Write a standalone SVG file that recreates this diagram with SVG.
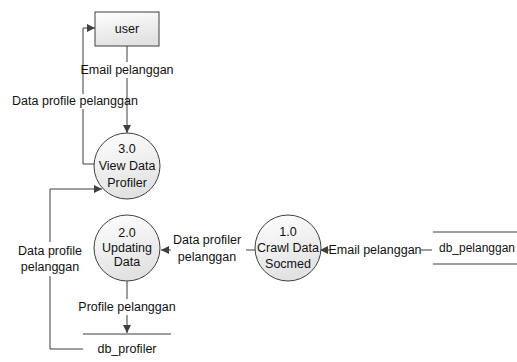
<svg xmlns="http://www.w3.org/2000/svg" width="517" height="362" viewBox="0 0 517 362">
  <defs>
    <linearGradient id="shade" x1="0" y1="0" x2="0.3" y2="1">
      <stop offset="0" stop-color="#ffffff"/>
      <stop offset="1" stop-color="#e2e2e2"/>
    </linearGradient>
    <marker id="arrow" markerWidth="9" markerHeight="8" refX="8" refY="4" orient="auto" markerUnits="userSpaceOnUse">
      <path d="M0,0 L8,4 L0,8 Z" fill="#3f3f3f"/>
    </marker>
    <style>
      .shape { fill: url(#shade); stroke: #3f3f3f; stroke-width: 1; }
      .flow { fill: none; stroke: #3f3f3f; stroke-width: 1; }
      .store { fill: none; stroke: #3f3f3f; stroke-width: 1; }
      text { font-family: "Liberation Sans", Arial, sans-serif; font-size: 12.5px; fill: #111111; text-anchor: middle; }
      .left { text-anchor: start; }
    </style>
  </defs>

  <!-- connectors -->
  <g id="connectors">
    <!-- user -> 3.0 -->
    <path class="flow" d="M127 46 V62 M127 78 V133" marker-end="url(#arrow)"/>
    <!-- 3.0 -> user -->
    <path class="flow" d="M95 164 H83 V109 M83 94 V28 H95" marker-end="url(#arrow)"/>
    <!-- db_profiler -> 3.0 -->
    <path class="flow" d="M83 349 H50 V276 M50 242 V189 H102" marker-end="url(#arrow)"/>
    <!-- 1.0 -> 2.0 -->
    <path class="flow" d="M255 250 H246 M171 250 H161" marker-end="url(#arrow)"/>
    <!-- db_pelanggan -> 1.0 -->
    <path class="flow" d="M432 250 H421 M330 250 H320" marker-end="url(#arrow)"/>
    <!-- 2.0 -> db_profiler -->
    <path class="flow" d="M127 281 V299 M127 315 V333" marker-end="url(#arrow)"/>

    <text x="127" y="74">Email pelanggan</text>
    <text x="75" y="105">Data profile pelanggan</text>
    <text x="50" y="255">Data profile</text>
    <text x="50" y="271">pelanggan</text>
    <text x="207" y="244">Data profiler</text>
    <text x="207" y="261">pelanggan</text>
    <text x="375" y="254">Email pelanggan</text>
    <text x="127" y="311">Profile pelanggan</text>
  </g>

  <g id="user">
    <rect class="shape" x="95" y="12" width="64" height="34"/>
    <text x="127" y="33">user</text>
  </g>

  <g id="p3">
    <circle class="shape" cx="127" cy="166" r="33"/>
    <text x="127" y="153">3.0</text>
    <text x="127" y="170">View Data</text>
    <text x="127" y="187">Profiler</text>
  </g>

  <g id="p2">
    <circle class="shape" cx="127" cy="248" r="33"/>
    <text x="127" y="237">2.0</text>
    <text x="127" y="252">Updating</text>
    <text x="127" y="266">Data</text>
  </g>

  <g id="p1">
    <circle class="shape" cx="288" cy="248" r="33"/>
    <text x="288" y="236">1.0</text>
    <text x="288" y="252" textLength="62" lengthAdjust="spacingAndGlyphs">Crawl Data</text>
    <text x="288" y="268">Socmed</text>
  </g>

  <g id="db_profiler">
    <path class="store" d="M83 334 H171"/>
    <text x="127" y="353">db_profiler</text>
  </g>

  <g id="db_pelanggan">
    <path class="store" d="M433 232 H517 M433 264 H517"/>
    <text class="left" x="439" y="252" textLength="76" lengthAdjust="spacingAndGlyphs">db_pelanggan</text>
  </g>
</svg>
